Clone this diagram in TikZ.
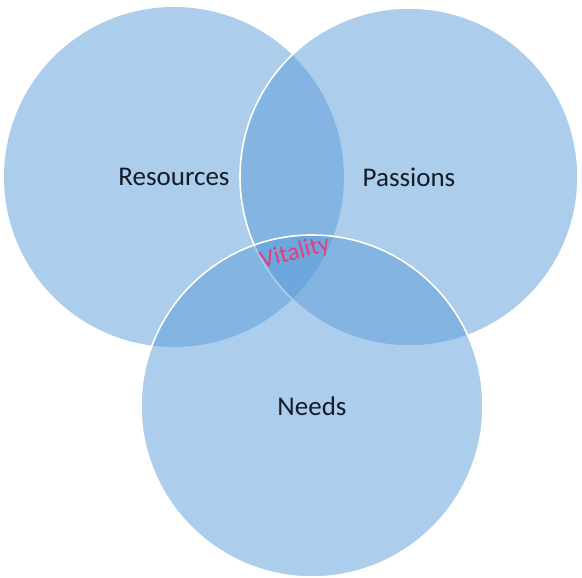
\documentclass[tikz,border=0pt]{standalone}
\usepackage{fontspec}
\setmainfont{Carlito}
\begin{document}
\begin{tikzpicture}[x=1pt,y=1pt,
  set/.style={circle, inner sep=0pt, fill=setblue, fill opacity=0.5,
              text opacity=1, text=labeltext, font=\fontsize{27}{30}\selectfont},
  rim/.style={draw=white, line width=1.6pt}]
  \definecolor{setblue}{HTML}{5A9BD8}
  \definecolor{labeltext}{HTML}{141C28}
  \definecolor{vitalpink}{HTML}{E2407A}
  \useasboundingbox (0,0) rectangle (582,578);
  % the three overlapping sets
  \node[set, minimum size=340pt] (res) at (174,401) {Resources};
  \node[set, rim, minimum size=338pt] (pas) at (409,401) {Passions};
  \node[set, rim, minimum size=342pt] (need) at (312,172) {Needs};
  % label of the common region
  \node[text=vitalpink, rotate=15, font=\fontsize{25}{28}\selectfont] (vit) at (295,325) {Vitality};
\end{tikzpicture}
\end{document}
